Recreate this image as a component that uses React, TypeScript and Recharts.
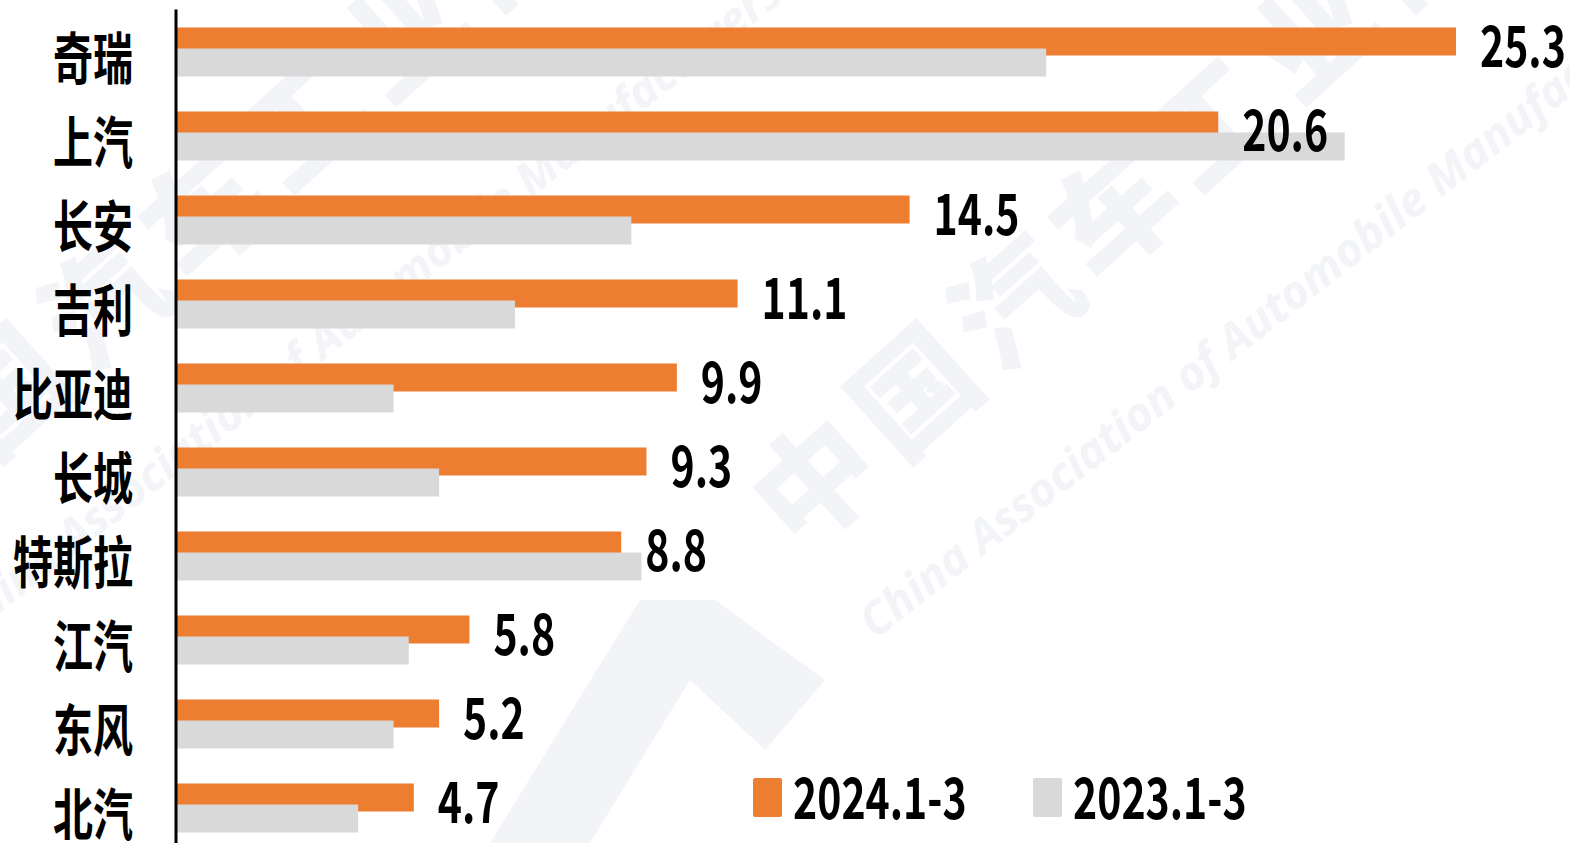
import React from 'react';
import { BarChart, Bar, XAxis, YAxis, LabelList } from 'recharts';

const categories = ['奇瑞', '上汽', '长安', '吉利', '比亚迪', '长城', '特斯拉', '江汽', '东风', '北汽'];
const sales2024 = [25.3, 20.6, 14.5, 11.1, 9.9, 9.3, 8.8, 5.8, 5.2, 4.7];
const sales2023 = [17.2, 23.1, 9.0, 6.7, 4.3, 5.2, 9.2, 4.6, 4.3, 3.6];
const seriesNames = ['2024.1-3', '2023.1-3'];
const seriesColors = ['#ED7D31', '#D9D9D9'];

const data = categories.map((name, i) => ({ name, v2024: sales2024[i], v2023: sales2023[i] }));

const FONT = "'Noto Sans CJK SC', 'Noto Sans', sans-serif";
const WM = '#F2F4F7';

const CategoryTick = (props: any) => {
  const { x, y, payload } = props;
  return (
    <g transform={`translate(${x - 43},${y + 3}) scale(1,1.38)`}>
      <text x={0} y={0} textAnchor="end" dominantBaseline="central" fontFamily={FONT} fontWeight={700} fontSize={40} fill="#000">
        {payload.value}
      </text>
    </g>
  );
};

const ValueLabel = (props: any) => {
  const { x, y, width, height, value } = props;
  const cx = Number(x) + Number(width) + 24;
  const cy = Number(y) + Number(height) / 2 + 0.5;
  return (
    <g transform={`translate(${cx},${cy}) scale(1,1.38)`}>
      <text x={0} y={0} textAnchor="start" dominantBaseline="central" fontFamily={FONT} fontWeight={700} fontSize={41} fill="#000">
        {Number(value).toFixed(1)}
      </text>
    </g>
  );
};

const Watermark = ({ dx }: { dx: number }) => (
  <g transform={`translate(${dx},0)`}>
    <text transform="translate(800,555) rotate(-42)" fontFamily={FONT} fontWeight={900} fontSize={120} letterSpacing={14} fill={WM}>
      中国汽车工业协会
    </text>
    <text transform="translate(875,640) rotate(-38)" fontFamily="'Open Sans', sans-serif" fontStyle="italic" fontWeight={700} fontSize={46} fill={WM}>
      China Association of Automobile Manufacturers
    </text>
  </g>
);

export default function App() {
  return (
    <div style={{ position: 'fixed', left: 0, top: 0, width: 1570, height: 843, overflow: 'hidden', background: '#fff' }}>
      <svg width={1570} height={843} style={{ position: 'absolute', left: 0, top: 0 }}>
        <Watermark dx={0} />
        <Watermark dx={-910} />
        <polygon points="490,843 640,600 715,600 825,680 765,750 690,680 590,843" fill={WM} />
      </svg>
      <div style={{ position: 'absolute', left: 0, top: 0 }}>
        <BarChart
          layout="vertical"
          width={1570}
          height={850}
          data={data}
          margin={{ top: 9.5, right: 28, bottom: 0.5, left: 0 }}
          barSize={28}
          barGap={-7}
        >
          <XAxis type="number" domain={[0, 27]} hide />
          <YAxis
            type="category"
            dataKey="name"
            width={176}
            axisLine={{ stroke: '#000', strokeWidth: 3 }}
            tickLine={false}
            tickSize={0}
            tickMargin={0}
            interval={0}
            tick={<CategoryTick />}
          />
          <Bar dataKey="v2024" name={seriesNames[0]} fill={seriesColors[0]} isAnimationActive={false}>
            <LabelList dataKey="v2024" content={<ValueLabel />} />
          </Bar>
          <Bar dataKey="v2023" name={seriesNames[1]} fill={seriesColors[1]} isAnimationActive={false} />
        </BarChart>
      </div>
      {[0, 1].map((i) => (
        <div key={i} style={{ position: 'absolute', left: i === 0 ? 753 : 1033, top: 778, height: 39 }}>
          <div style={{ position: 'absolute', left: 0, top: 0, width: 29, height: 39, background: seriesColors[i], borderRadius: 2 }} />
          <div
            style={{
              position: 'absolute',
              left: 40,
              top: 17,
              whiteSpace: 'nowrap',
              fontFamily: FONT,
              fontWeight: 700,
              fontSize: 41,
              lineHeight: '41px',
              color: '#000',
              transform: 'translateY(-50%) scaleY(1.4)',
            }}
          >
            {seriesNames[i]}
          </div>
        </div>
      ))}
    </div>
  );
}
